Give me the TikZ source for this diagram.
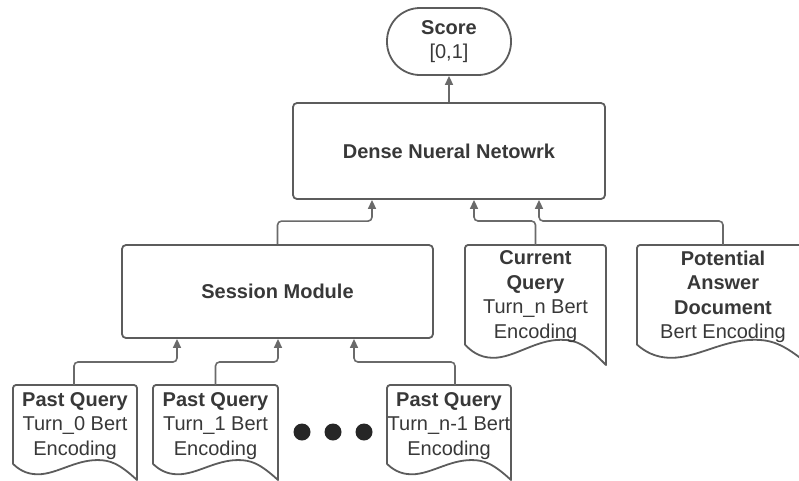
\documentclass[tikz,border=0pt]{standalone}
\usepackage{fontspec}
\setmainfont{Liberation Sans}
\usetikzlibrary{arrows.meta}
\definecolor{ln}{HTML}{6A6A6A}
\definecolor{bd}{HTML}{5C5C5C}
\definecolor{tx}{HTML}{383838}
\definecolor{dotc}{HTML}{262626}
\tikzset{
  x=1pt, y=-1pt,
  every node/.style={text=tx, font=\fontsize{20}{24.5}\selectfont},
  box/.style={draw=bd, line width=1.8pt, rounded corners=4pt, inner sep=0pt, align=center},
  scorebox/.style={draw=bd, line width=1.8pt, rounded corners=33pt, minimum width=124pt, minimum height=67pt, inner sep=0pt, align=center},
  docline/.style={draw=bd, line width=1.8pt, line join=round},
  docarea/.style={inner sep=0pt, outer sep=0pt},
  doctext/.style={align=center, inner sep=0pt},
  conn/.style={draw=ln, line width=1.6pt, rounded corners=4pt, -{Triangle[length=9pt,width=8pt]}},
  bigdot/.style={circle, fill=dotc, minimum size=17pt, inner sep=0pt}
}
\newcommand\mydoc[6]{%
  \draw[docline] (#2,{#3+0.83*#5}) [rounded corners=3pt]-- (#2,#3) -- ({#2+#4},#3) [sharp corners]-- ({#2+#4},{#3+#5})
    .. controls ({#2+0.85*#4},{#3+0.82*#5}) and ({#2+0.78*#4},{#3+0.79*#5}) .. ({#2+0.68*#4},{#3+0.79*#5})
    .. controls ({#2+0.5*#4},{#3+0.79*#5}) and ({#2+0.35*#4},{#3+0.94*#5}) .. ({#2+0.2*#4},{#3+0.94*#5})
    .. controls ({#2+0.1*#4},{#3+0.94*#5}) and ({#2+0.04*#4},{#3+0.88*#5}) .. (#2,{#3+0.83*#5}) -- cycle;
  \node[docarea, minimum width=#4pt, minimum height=#5pt] (#1) at ({#2+0.5*#4},{#3+0.5*#5}) {};
  \node[doctext] (#1-t) at ({#2+0.5*#4},{#3+0.43*#5}) {#6};
}
\begin{document}
\begin{tikzpicture}
\useasboundingbox (0,0) rectangle (799,480);

\node[scorebox] (sc) at (449,41.5) {\textbf{Score}\\{[0,1]}};
\node[box, minimum width=312pt, minimum height=96pt] (dn) at (449,151) {\textbf{Dense Nueral Netowrk}};
\node[box, minimum width=311pt, minimum height=93pt] (sm) at (277.5,291.5) {\textbf{Session Module}};

\mydoc{cq}{465}{245}{141}{120}{\textbf{Current}\\\textbf{Query}\\Turn\_n Bert\\Encoding}
\mydoc{pa}{637}{245}{172}{120}{\textbf{Potential}\\\textbf{Answer}\\\textbf{Document}\\Bert Encoding}
\mydoc{p0}{13}{385}{124}{95}{\textbf{Past Query}\\Turn\_0 Bert\\Encoding}
\mydoc{p1}{153}{385}{125}{95}{\textbf{Past Query}\\Turn\_1 Bert\\Encoding}
\mydoc{pn}{387}{385}{124}{95}{\textbf{Past Query}\\Turn\_n-1 Bert\\Encoding}

\node[bigdot] (d1) at (302,432) {};
\node[bigdot] (d2) at (333,432) {};
\node[bigdot] (d3) at (364,432) {};

\draw[conn] (dn.north) -- (sc.south);
\draw[conn] (sm.north) -- ++(0,-23) -| ([xshift=-77pt]dn.south);
\draw[conn] (cq.north) -- ++(0,-24) -| ([xshift=25pt]dn.south);
\draw[conn] (pa.north) -- ++(0,-24) -| ([xshift=90pt]dn.south);
\draw[conn] ([xshift=-1pt]p0.north) -- ++(0,-23) -| ([xshift=-100.5pt]sm.south);
\draw[conn] (p1.north) -- ++(0,-23) -| ([xshift=0.5pt]sm.south);
\draw[conn] ([xshift=6pt]pn.north) -- ++(0,-23) -| ([xshift=76.5pt]sm.south);
\end{tikzpicture}
\end{document}
